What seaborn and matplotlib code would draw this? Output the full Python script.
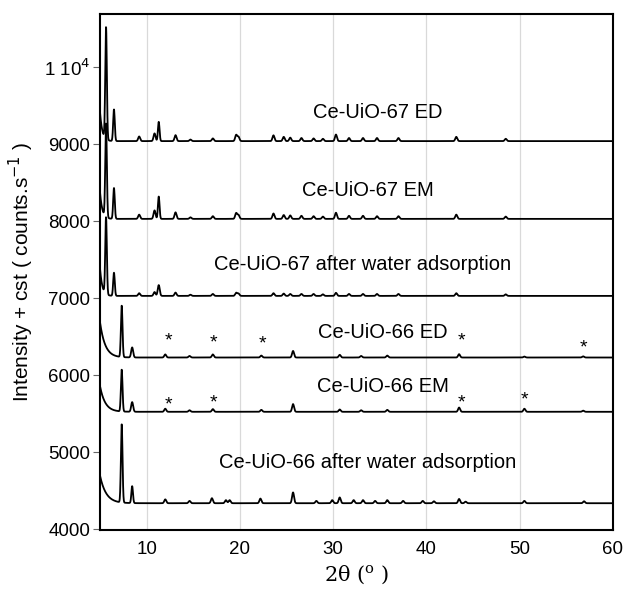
import numpy as np
import pandas as pd
import matplotlib
matplotlib.use("Agg")
import matplotlib.pyplot as plt
import seaborn as sns

# Diffraction patterns, each one stacked with its own constant offset.
# For every sample: offset baseline, low-angle background (amplitude, decay),
# and the list of reflections (2theta position, height above baseline).
samples = [
    "Ce-UiO-67 ED",
    "Ce-UiO-67 EM",
    "Ce-UiO-67 after water adsorption",
    "Ce-UiO-66 ED",
    "Ce-UiO-66 EM",
    "Ce-UiO-66 after water adsorption",
]
baselines = [9040, 8030, 7030, 6230, 5525, 4338]
bg_amplitude = [380, 350, 360, 460, 335, 360]
bg_decay = [0.25, 0.25, 0.25, 0.55, 0.55, 0.65]

uio67_ed_pos = [5.65, 6.5, 9.2, 10.85, 11.3, 13.1, 14.7, 17.1, 19.6, 19.85, 23.6, 24.7,
                25.4, 26.6, 27.9, 28.9, 30.3, 31.7, 33.2, 34.7, 37.0, 43.2, 48.5]
uio67_ed_hgt = [1460, 410, 60, 100, 250, 77, 20, 35, 80, 55, 75, 55,
                45, 40, 35, 30, 85, 40, 40, 40, 40, 55, 30]
uio67_em_pos = uio67_ed_pos
uio67_em_hgt = [1220, 400, 55, 110, 290, 85, 20, 35, 75, 50, 70, 50,
                45, 40, 35, 30, 80, 40, 40, 35, 35, 55, 30]
uio67_w_pos = uio67_ed_pos
uio67_w_hgt = [1000, 300, 35, 50, 140, 43, 15, 25, 40, 30, 35, 30,
               25, 25, 25, 20, 40, 25, 25, 25, 25, 35, 20]

uio66_ed_pos = [7.33, 8.45, 12.0, 14.6, 17.1, 22.3, 25.7, 30.7, 33.0, 35.8, 43.5, 50.5, 56.8]
uio66_ed_hgt = [670, 130, 40, 20, 40, 25, 85, 35, 20, 25, 43, 12, 15]
uio66_em_pos = uio66_ed_pos
uio66_em_hgt = [545, 125, 40, 20, 35, 25, 100, 30, 20, 25, 55, 40, 15]
uio66_w_pos = [7.33, 8.45, 12.0, 14.6, 17.0, 18.5, 18.9, 22.2, 25.7, 28.2, 29.9, 30.7,
               32.2, 33.2, 34.5, 35.8, 37.5, 39.6, 40.8, 43.5, 44.2, 50.5, 56.9]
uio66_w_hgt = [1020, 220, 50, 30, 65, 40, 40, 60, 140, 30, 40, 75,
               40, 40, 30, 40, 30, 30, 25, 55, 20, 30, 25]

peak_positions = [uio67_ed_pos, uio67_em_pos, uio67_w_pos, uio66_ed_pos, uio66_em_pos, uio66_w_pos]
peak_heights = [uio67_ed_hgt, uio67_em_hgt, uio67_w_hgt, uio66_ed_hgt, uio66_em_hgt, uio66_w_hgt]

# text labels for each pattern (x, y in data units)
label_x = [34.8, 33.7, 33.1, 35.3, 35.3, 33.7]
label_y = [9415, 8400, 7440, 6560, 5857, 4870]

# impurity reflections marked with an asterisk
star_ed_x = [12.3, 17.2, 22.4, 43.8, 56.8]
star_ed_y = [6450, 6425, 6400, 6450, 6360]
star_em_x = [12.3, 17.2, 43.8, 50.5]
star_em_y = [5610, 5645, 5645, 5685]

y_ticks = [4000, 5000, 6000, 7000, 8000, 9000, 10000]
y_tick_labels = ["4000", "5000", "6000", "7000", "8000", "9000", "1 10$^{4}$"]
x_ticks = [10, 20, 30, 40, 50, 60]

two_theta = np.arange(5.0, 60.0001, 0.02)


def pattern(base, amp, tau, pos, hgt):
    y = np.full_like(two_theta, float(base))
    y += amp * np.exp(-(two_theta - 5.0) / tau)
    for p, h in zip(pos, hgt):
        fwhm = 0.2 if h > 200 else 0.25
        s = fwhm / 2.3548
        y += h * np.exp(-0.5 * ((two_theta - p) / s) ** 2)
    return y


frames = []
for name, b, a, t, pos, hgt in zip(samples, baselines, bg_amplitude, bg_decay,
                                   peak_positions, peak_heights):
    frames.append(pd.DataFrame({"two_theta": two_theta,
                                "intensity": pattern(b, a, t, pos, hgt),
                                "sample": name}))
data = pd.concat(frames, ignore_index=True)

sns.set_style("white")
plt.rcParams["font.family"] = ["Liberation Sans", "DejaVu Sans"]
plt.rcParams["text.color"] = "black"
plt.rcParams["axes.labelcolor"] = "black"
plt.rcParams["xtick.color"] = "black"
plt.rcParams["ytick.color"] = "black"

fig = plt.figure(figsize=(6.3, 5.97), dpi=100)
ax = fig.add_axes([0.1587, 0.1122, 0.8143, 0.8643])

sns.lineplot(data=data, x="two_theta", y="intensity", hue="sample",
             palette=["black"] * len(samples), estimator=None, sort=False,
             linewidth=1.3, legend=False, ax=ax)

for name, x, y in zip(samples, label_x, label_y):
    ax.text(x, y, name, ha="center", va="center", fontsize=14.5)

for x, y in zip(star_ed_x + star_em_x, star_ed_y + star_em_y):
    ax.text(x, y, "*", ha="center", va="center", fontsize=14)

ax.set_xlim(5, 60)
ax.set_ylim(3990, 10690)
ax.set_xticks(x_ticks)
ax.set_yticks(y_ticks)
ax.set_yticklabels(y_tick_labels)
ax.tick_params(axis="y", which="major", direction="out", length=5, width=0.8,
               color="#666666", labelsize=13.5, pad=2, left=True)
ax.tick_params(axis="x", which="major", length=0, labelsize=13.5, pad=8)
ax.grid(axis="x", color="#d9d9d9", linewidth=0.9)
ax.grid(axis="y", visible=False)
for side in ax.spines.values():
    side.set_color("black")
    side.set_linewidth(1.5)

ax.set_xlabel("2\u03b8 ($^{\\mathregular{o}}$ )", fontsize=15, labelpad=4,
              family=["DejaVu Serif", "DejaVu Sans"])
ax.set_ylabel("Intensity + cst ( counts.s$^{-1}$ )", fontsize=15, labelpad=6)

fig.savefig("out.png", dpi=100)
